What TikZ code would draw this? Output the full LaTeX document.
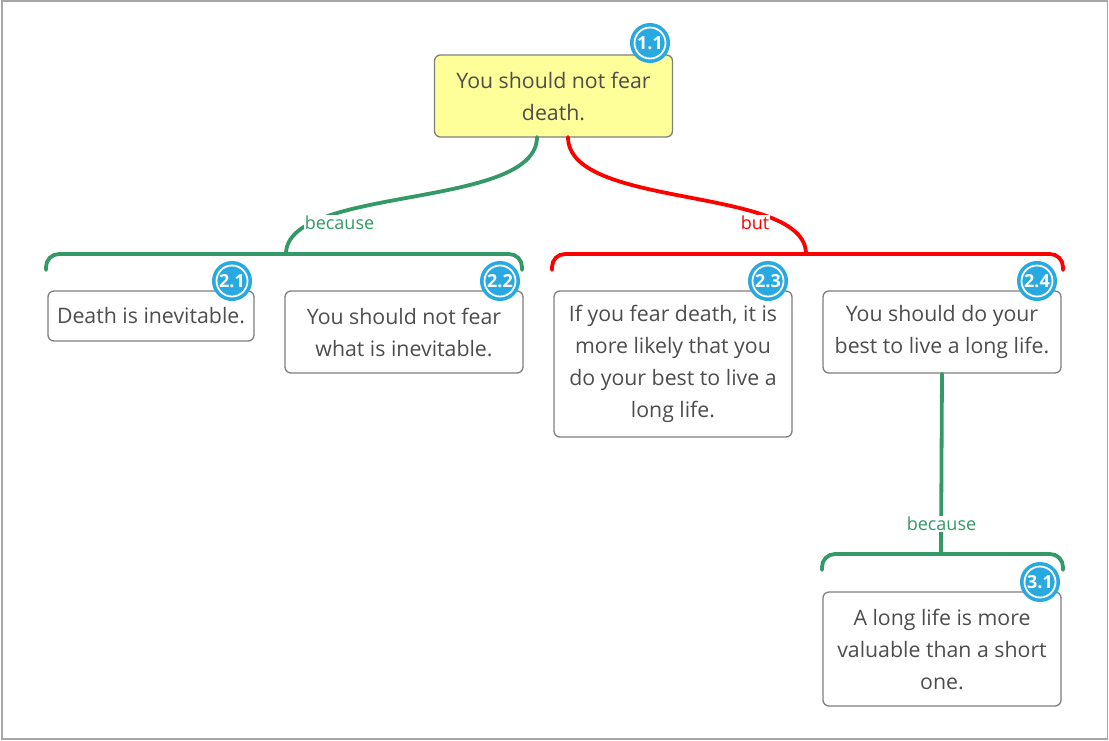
\documentclass[tikz,border=0pt]{standalone}
\usepackage{fontspec}
\setmainfont{Open Sans}
\definecolor{txt}{HTML}{4D4D4D}
\definecolor{gline}{HTML}{339966}
\definecolor{rline}{HTML}{FF0000}
\definecolor{badgeblue}{HTML}{29A9E1}
\definecolor{yfill}{HTML}{FFFF99}
\definecolor{bord}{HTML}{7F7F7F}
\definecolor{frame}{HTML}{A6A6A6}
\begin{document}
\begin{tikzpicture}[x=1pt,y=-1pt,
  claim/.style={draw=bord, line width=1.3pt, rounded corners=6pt, fill=white, text=txt,
    align=center, font=\fontsize{21.3}{32}\selectfont, inner sep=0pt,
    minimum width=238pt, minimum height=82pt},
  numbadge/.style={circle, fill=badgeblue, draw=white, line width=1.8pt, minimum size=31pt,
    inner sep=0pt, text=white, font=\bfseries\fontsize{18}{18}\selectfont,
    preaction={draw=badgeblue, line width=9pt}},
  gedge/.style={draw=gline, line width=3.8pt, line cap=round},
  redge/.style={draw=rline, line width=3.8pt, line cap=round},
  lbl/.style={fill=white, inner sep=1pt, font=\fontsize{18}{20}\selectfont}]
\useasboundingbox (0,0) rectangle (1109,740);
\draw[frame, line width=1.5pt] (2,0.75) rectangle (1107.5,738.75);

% claims
\node[claim, fill=yfill] (n11) at (553.5,96) {You should not fear\\death.};
\node[claim, minimum width=206pt, minimum height=50pt] (n21) at (151,316) {Death is inevitable.};
\node[claim] (n22) at (404,332) {You should not fear\\what is inevitable.};
\node[claim, minimum height=146pt] (n23) at (673,364) {If you fear death, it is\\more likely that you\\do your best to live a\\long life.};
\node[claim] (n24) at (942,332) {You should do your\\best to live a long life.};
\node[claim, minimum height=114pt] (n31) at (942,649) {A long life is more\\valuable than a short\\one.};

% connection points
\coordinate (g0) at (537,137);
\coordinate (r0) at (568,137);
\coordinate (gb) at (286,254);
\coordinate (rb) at (806,254);
\coordinate (gbL) at (46,270);
\coordinate (gbR) at (522,270);
\coordinate (rbL) at (552,270);
\coordinate (rbR) at (1063,270);
\coordinate (vb) at (941,554);
\coordinate (vbL) at (822,570);
\coordinate (vbR) at (1063,570);

% brackets
\draw[gedge, rounded corners=13pt] (gbL) |- (gb) -| (gbR);
\draw[redge, rounded corners=13pt] (rbL) |- (rb) -| (rbR);
\draw[gedge, rounded corners=13pt] (vbL) |- (vb) -| (vbR);

% connectors
\draw[gedge] (g0) .. controls (537,210) and (286,185) .. (gb);
\draw[redge] (r0) .. controls (568,210) and (806,185) .. (rb);
\draw[gedge] (n24.south) -- (vb);

% labels
\node[lbl, text=gline] (l1) at (339.5,223) {because};
\node[lbl, text=rline] (l2) at (755,223) {but};
\node[lbl, text=gline] (l3) at (941.5,524) {because};

% badges
\node[numbadge] (b11) at (650,43) {1.1};
\node[numbadge] (b21) at (232,281) {2.1};
\node[numbadge] (b22) at (500,281) {2.2};
\node[numbadge] (b23) at (768,281) {2.3};
\node[numbadge] (b24) at (1037,281) {2.4};
\node[numbadge] (b31) at (1040,582) {3.1};
\end{tikzpicture}
\end{document}
